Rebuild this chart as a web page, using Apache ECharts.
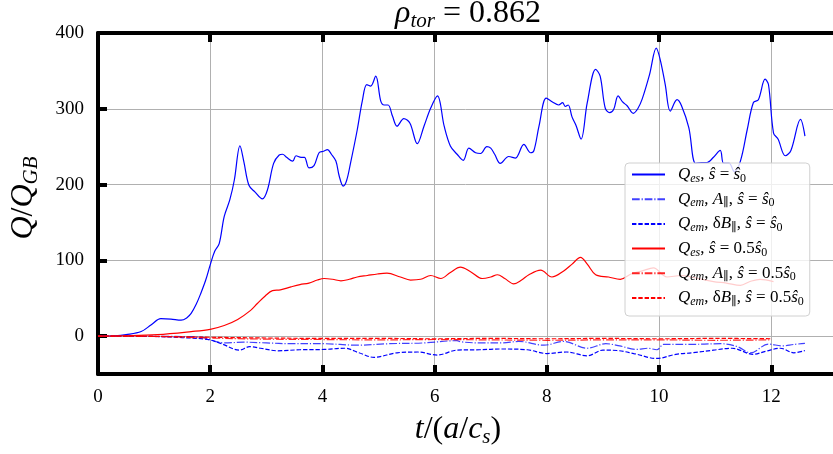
<!DOCTYPE html>
<html>
<head>
<meta charset="utf-8">
<script src="https://cdn.jsdelivr.net/npm/echarts@6.0.0/dist/echarts.min.js"></script>
<style>html,body{margin:0;padding:0;background:#fff}#c{width:833px;height:454px}</style>
</head>
<body>
<div id="c"></div>
<script>
// ---- data ----
const xTicks = [0, 2, 4, 6, 8, 10, 12];
const yTicks = [0, 100, 200, 300, 400];

const tEsA = [0,0.3,0.5,0.77,0.95,1.12,1.3,1.48,1.58,1.66,1.75,1.83,1.92,2.0,2.08,2.16,2.25,2.35,2.43,2.53,2.6,2.69,2.8,2.93,3.02,3.13,3.23,3.29,3.36,3.47,3.53,3.62,3.68,3.76,3.85,3.94,4.02,4.09,4.16,4.24,4.30,4.37,4.43,4.50,4.62,4.71,4.79,4.86,4.95,5.04,5.10,5.17,5.25,5.33,5.45,5.56,5.69,5.81,5.93,6.05,6.17,6.28,6.4,6.51,6.61,6.73,6.82,6.93,7.0,7.07,7.17,7.32,7.44,7.59,7.71,7.77,7.86,7.99,8.1,8.21,8.28,8.33,8.38,8.45,8.52,8.61,8.72,8.87,8.95,9.04,9.12,9.19,9.27,9.35,9.43,9.54,9.62,9.70,9.83,9.95,10.02,10.11,10.20,10.32,10.40,10.53,10.65,10.75,10.85,10.97,11.09,11.15,11.25,11.34,11.45,11.57,11.68,11.77,11.89,11.95,12.04,12.12,12.25,12.35,12.52,12.60];
const qEsA = [0,0.5,2,6,15,23,22.5,21,24,30,42,56,74,94,112,122,158,180,206,251,230,199,190,181,193,228,239,240,236,231,238,236,236,222,225,242,244,246,240,231,211,198,205,228,272,310,332,330,343,310,305,305,290,277,287,281,254,277,301,317,277,251,240,232,248,242,241,250,248,240,228,237,235,253,242,245,277,314,309,305,308,303,305,289,278,260,308,352,343,301,295,299,317,309,304,294,300,313,345,380,365,332,297,312,304,275,228,229,229,236,245,228,228,217,231,272,308,312,339,332,268,260,238,245,286,264];

const tEmAparA = [0,1.5,1.8,2.25,2.6,3.0,3.44,4.0,4.62,5.2,5.8,6.4,6.46,6.8,7.2,7.5,7.95,8.3,8.72,9.05,9.3,9.6,9.8,9.96,10.08,10.5,11.1,11.4,11.63,11.95,12.2,12.4,12.6];
const qEmAparA = [0,-0.5,-1,-9,-8,-9,-10,-10,-12,-10,-9,-6,-7.5,-9,-9,-7,-12,-7,-16,-10,-13,-17.6,-16,-18,-11,-11,-10,-14,-22,-10.6,-13,-11,-9.7];

const tEmBparA = [0,1.0,1.5,1.95,2.2,2.52,2.7,2.9,3.2,3.6,4.03,4.4,4.65,4.92,5.33,5.7,6.05,6.4,6.8,7.2,7.65,8.0,8.35,8.72,9.0,9.25,9.55,9.96,10.3,10.6,10.97,11.3,11.68,11.9,12.16,12.4,12.6];
const qEmBparA = [0,-0.5,-2,-4.4,-10,-18.5,-14,-16,-19.4,-18,-17.6,-16,-22,-28,-22,-21,-25,-18.5,-18,-17,-18,-23,-21,-26,-18.5,-19,-23,-29.5,-24,-22,-18.5,-16,-24,-20,-16,-22,-19];

const tEsB = [0,0.5,1.06,1.66,2.0,2.25,2.49,2.72,2.84,2.98,3.11,3.25,3.44,3.6,3.76,3.91,4.03,4.18,4.33,4.48,4.62,4.8,4.98,5.15,5.39,5.57,5.75,5.93,6.11,6.28,6.46,6.64,6.85,7.0,7.12,7.25,7.41,7.55,7.68,7.89,8.09,8.3,8.45,8.60,8.72,8.87,9.10,9.31,9.5,9.7,9.90,10.14,10.4,10.7,10.97,11.2,11.45,11.62,11.80,12.04];
const qEsB = [0,0.5,2,6,9,14,22,34,43,53,60,61,65,68,70,74,76,75,73,75,78,80,82,83,78,74,75,80,76,84,91,85,76,78,81,76,69,74,81,87,78,86,95,104,95,81,78,75,82,86,90,78,80,76,72,70,67,72,75,72];

const tEmAparB = [0,1,2,3,4,5,6,7,8,9,10,11,12];
const qEmAparB = [0,-0.5,-2.5,-4,-4.5,-5,-4.5,-5,-5.5,-5,-5,-5.5,-5];

const tEmBparB = [0,1,2,3,4,5,6,7,8,9,10,11,12];
const qEmBparB = [0,-0.3,-1.5,-2.5,-3,-3,-3.5,-3,-3.5,-3,-3.5,-3,-3.5];

const names = ['es_a','emA_a','emB_a','es_b','emA_b','emB_b'];
const legendText = {
  es_a:  '{sp|}{i|Q}{si|es}{n|, }{i|ŝ}{n| = }{i|ŝ}{s|0}',
  emA_a: '{sp|}{i|Q}{si|em}{n|, }{i|A}{s|∥}{n|, }{i|ŝ}{n| = }{i|ŝ}{s|0}',
  emB_a: '{sp|}{i|Q}{si|em}{n|, δ}{i|B}{s|∥}{n|, }{i|ŝ}{n| = }{i|ŝ}{s|0}',
  es_b:  '{sp|}{i|Q}{si|es}{n|, }{i|ŝ}{n| = 0.5}{i|ŝ}{s|0}',
  emA_b: '{sp|}{i|Q}{si|em}{n|, }{i|A}{s|∥}{n|, }{i|ŝ}{n| = 0.5}{i|ŝ}{s|0}',
  emB_b: '{sp|}{i|Q}{si|em}{n|, δ}{i|B}{s|∥}{n|, }{i|ŝ}{n| = 0.5}{i|ŝ}{s|0}'
};

function zip(t, q) { return t.map((v, i) => [v, q[i]]); }

const FF = '"Liberation Serif", "DejaVu Serif", serif';
const BLUE = '#0000ff', RED = '#ff0000';
const DASH = [4.4, 1.9], DASHDOT = [7.7, 1.9, 1.2, 1.9];

function mkSeries(name, data, color, type, opacity) {
  return {
    name, type: 'line', data, showSymbol: false, symbol: 'none', smooth: 0.35,
    xAxisIndex: 0, yAxisIndex: 0,
    lineStyle: { color, width: 1.2, type, opacity: opacity || 1 },
    itemStyle: { color, opacity: opacity || 1 },
    emphasis: { disabled: true }, animation: false
  };
}

const chart = echarts.init(document.getElementById('c'), null, { renderer: 'canvas' });
const legendRich = {
  sp: { width: 8 },
  i: { fontFamily: FF, fontStyle: 'italic', fontSize: 17, lineHeight: 20, color: '#000' },
  n: { fontFamily: FF, fontSize: 17, lineHeight: 20, color: '#000' },
  si: { fontFamily: FF, fontStyle: 'italic', fontSize: 12, lineHeight: 12, verticalAlign: 'bottom', color: '#000' },
  s: { fontFamily: FF, fontSize: 12, lineHeight: 12, verticalAlign: 'bottom', color: '#000' }
};
const labRich = {
  i: { fontFamily: FF, fontStyle: 'italic', fontSize: 32, lineHeight: 36, fill: '#000', color: '#000' },
  n: { fontFamily: FF, fontSize: 32, lineHeight: 36, fill: '#000', color: '#000' },
  si: { fontFamily: FF, fontStyle: 'italic', fontSize: 21, lineHeight: 22, verticalAlign: 'bottom', fill: '#000', color: '#000' }
};

chart.setOption({
  animation: false,
  grid: { left: 98, right: 0, top: 33, bottom: 80, containLabel: false },
  xAxis: [{
    type: 'value', min: 0, max: 13.1, position: 'bottom',
    axisLine: { onZero: false, lineStyle: { color: '#000', width: 4 } },
    axisTick: { inside: true, length: 9, customValues: xTicks, lineStyle: { color: '#000', width: 4 } },
    axisLabel: { customValues: xTicks, fontFamily: FF, fontSize: 19, color: '#000', margin: 14 },
    splitLine: { show: true, lineStyle: { color: '#b0b0b0', width: 1 } }
  }, {
    type: 'value', min: 0, max: 13.1, position: 'top',
    axisLine: { onZero: false, lineStyle: { color: '#000', width: 4 } },
    axisTick: { inside: true, length: 9, customValues: xTicks, lineStyle: { color: '#000', width: 4 } },
    axisLabel: { show: false },
    splitLine: { show: false }
  }],
  yAxis: [{
    type: 'value', min: -50, max: 400,
    axisLine: { onZero: false, lineStyle: { color: '#000', width: 4 } },
    axisTick: { inside: true, length: 9, customValues: yTicks, lineStyle: { color: '#000', width: 4 } },
    axisLabel: { customValues: yTicks, fontFamily: FF, fontSize: 19, color: '#000', margin: 14 },
    splitLine: { show: true, lineStyle: { color: '#b0b0b0', width: 1 } }
  }],
  legend: {
    left: 625, top: 163, orient: 'vertical',
    data: names,
    itemWidth: 33, itemHeight: 14, itemGap: 6.2,
    padding: [3, 6, 8, 6],
    itemStyle: { opacity: 0, borderWidth: 0 },
    backgroundColor: 'rgba(255,255,255,0.8)', borderColor: '#d0d0d0', borderWidth: 1, borderRadius: 4,
    formatter: n => legendText[n],
    textStyle: { fontFamily: FF, fontSize: 17, color: '#000', rich: legendRich },
    selectedMode: false
  },
  graphic: [
    { type: 'text', x: 468, y: 14, z: 100,
      style: { text: '{i|ρ}{si|tor}{n| = 0.862}', rich: labRich, align: 'center', verticalAlign: 'middle', fill: '#000' } },
    { type: 'text', x: 458, y: 430, z: 100,
      style: { text: '{i|t}{n|/(}{i|a}{n|/}{i|c}{si|s}{n|)}', rich: labRich, align: 'center', verticalAlign: 'middle', fill: '#000' } },
    { type: 'text', x: 24, y: 198, rotation: Math.PI / 2, z: 100,
      style: { text: '{i|Q}{n|/}{i|Q}{si|GB}', rich: labRich, align: 'center', verticalAlign: 'middle', fill: '#000' } }
  ],
  series: [
    mkSeries('es_a', zip(tEsA, qEsA), BLUE, 'solid'),
    mkSeries('emA_a', zip(tEmAparA, qEmAparA), BLUE, DASHDOT, 0.75),
    mkSeries('emB_a', zip(tEmBparA, qEmBparA), BLUE, DASH),
    mkSeries('es_b', zip(tEsB, qEsB), RED, 'solid'),
    mkSeries('emA_b', zip(tEmAparB, qEmAparB), RED, DASHDOT, 0.85),
    mkSeries('emB_b', zip(tEmBparB, qEmBparB), RED, DASH)
  ]
});
</script>
</body>
</html>
